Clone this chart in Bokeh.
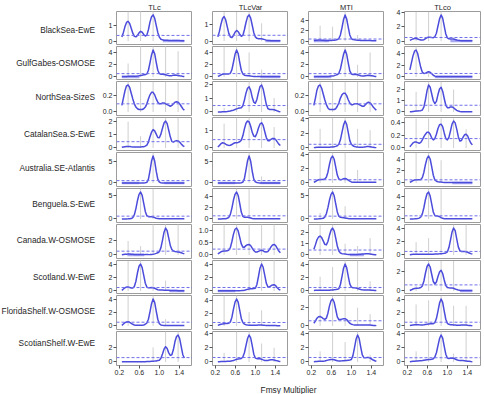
from bokeh.plotting import figure
from bokeh.layouts import column, row
from bokeh.models import Range1d, FixedTicker, Span, CustomJSTickFormatter
from bokeh.core.properties import value
from bokeh.embed import file_html
from bokeh.resources import INLINE

# ---------------- data ----------------
ECOSYSTEMS = ["BlackSea-EwE", "GulfGabes-OSMOSE", "NorthSea-SizeS", "CatalanSea.S-EwE",
              "Australia.SE-Atlantis", "Benguela.S-EwE", "Canada.W-OSMOSE", "Scotland.W-EwE",
              "FloridaShelf.W-OSMOSE", "ScotianShelf.W-EwE"]
INDICATORS = ["TLc", "TLcVar", "MTI", "TLco"]
X_TICKS = [0.2, 0.6, 1.0, 1.4]
X_TICK_LABELS = ["0.2", "0.6", "1.0", "1.4"]
X_TITLE = "Fmsy Multiplier"

FMSY = [0.25, 0.28125, 0.3125, 0.34375, 0.375, 0.40625, 0.4375, 0.46875,
        0.5, 0.53125, 0.5625, 0.59375, 0.625, 0.65625, 0.6875, 0.71875,
        0.75, 0.78125, 0.8125, 0.84375, 0.875, 0.90625, 0.9375, 0.96875,
        1.0, 1.03125, 1.0625, 1.09375, 1.125, 1.15625, 1.1875, 1.21875,
        1.25, 1.28125, 1.3125, 1.34375, 1.375, 1.40625, 1.4375, 1.46875, 1.5]
NEEDLE_X = [0.375, 0.625, 0.875, 1.125, 1.375]

TLC_DENSITY = [
    [0.26, 0.55, 0.92, 1.18, 1.25, 1.12, 0.82, 0.50,
     0.30, 0.27, 0.36, 0.52, 0.62, 0.56, 0.42, 0.32,
     0.38, 0.72, 1.20, 1.55, 1.66, 1.45, 1.00, 0.55,
     0.25, 0.12, 0.08, 0.06, 0.05, 0.05, 0.04, 0.04,
     0.03, 0.03, 0.03, 0.03, 0.03, 0.03, 0.02, 0.02, 0.02],
    [0.10, 0.10, 0.10, 0.10, 0.12, 0.12, 0.12, 0.12,
     0.12, 0.14, 0.16, 0.20, 0.25, 0.30, 0.35, 0.38,
     0.50, 1.10, 2.30, 3.60, 4.40, 3.80, 2.40, 1.10,
     0.55, 0.45, 0.45, 0.42, 0.35, 0.28, 0.22, 0.20,
     0.22, 0.28, 0.32, 0.30, 0.26, 0.20, 0.15, 0.10, 0.08],
    [0.08, 0.17, 0.26, 0.32, 0.33, 0.30, 0.23, 0.16,
     0.10, 0.06, 0.04, 0.03, 0.03, 0.03, 0.04, 0.06,
     0.10, 0.16, 0.21, 0.24, 0.24, 0.21, 0.16, 0.12,
     0.10, 0.10, 0.11, 0.11, 0.10, 0.09, 0.08, 0.07,
     0.08, 0.10, 0.12, 0.125, 0.12, 0.10, 0.07, 0.04, 0.02],
    [0.05, 0.08, 0.10, 0.12, 0.12, 0.11, 0.09, 0.08,
     0.07, 0.07, 0.07, 0.07, 0.08, 0.09, 0.10, 0.14,
     0.22, 0.45, 0.85, 1.20, 1.40, 1.30, 1.05, 0.80,
     0.78, 1.05, 1.50, 1.90, 2.05, 1.85, 1.35, 0.85,
     0.50, 0.45, 0.52, 0.56, 0.54, 0.45, 0.30, 0.18, 0.10],
    [0.02, 0.02, 0.02, 0.02, 0.02, 0.02, 0.02, 0.02,
     0.02, 0.02, 0.02, 0.02, 0.02, 0.02, 0.02, 0.05,
     0.15, 0.90, 2.90, 5.20, 6.40, 5.20, 2.80, 0.90,
     0.20, 0.05, 0.02, 0.02, 0.02, 0.02, 0.02, 0.02,
     0.02, 0.02, 0.02, 0.02, 0.02, 0.02, 0.02, 0.02, 0.02],
    [0.01, 0.01, 0.01, 0.02, 0.03, 0.05, 0.10, 0.30,
     0.90, 2.20, 3.90, 5.20, 5.70, 5.00, 3.30, 1.60,
     0.70, 0.50, 0.50, 0.48, 0.40, 0.28, 0.15, 0.08,
     0.05, 0.03, 0.03, 0.03, 0.03, 0.03, 0.03, 0.03,
     0.03, 0.03, 0.03, 0.03, 0.03, 0.03, 0.03, 0.03, 0.03],
    [0.03, 0.06, 0.09, 0.11, 0.12, 0.12, 0.10, 0.09,
     0.08, 0.08, 0.08, 0.08, 0.08, 0.07, 0.06, 0.05,
     0.05, 0.05, 0.06, 0.08, 0.10, 0.15, 0.22, 0.30,
     0.45, 1.00, 2.00, 3.10, 3.67, 3.30, 2.30, 1.30,
     0.75, 0.55, 0.48, 0.45, 0.42, 0.37, 0.30, 0.22, 0.15],
    [0.10, 0.30, 0.50, 0.60, 0.60, 0.55, 0.45, 0.45,
     0.70, 1.50, 2.80, 3.80, 4.15, 3.60, 2.40, 1.20,
     0.60, 0.48, 0.50, 0.52, 0.50, 0.42, 0.30, 0.20,
     0.16, 0.15, 0.14, 0.13, 0.12, 0.11, 0.10, 0.09,
     0.08, 0.07, 0.06, 0.06, 0.05, 0.05, 0.05, 0.05, 0.05],
    [0.10, 0.30, 0.50, 0.60, 0.62, 0.55, 0.40, 0.25,
     0.15, 0.10, 0.10, 0.10, 0.10, 0.12, 0.15, 0.25,
     0.45, 1.00, 2.10, 3.30, 4.00, 3.50, 2.20, 1.00,
     0.35, 0.15, 0.10, 0.08, 0.07, 0.06, 0.06, 0.06,
     0.06, 0.06, 0.06, 0.06, 0.06, 0.06, 0.06, 0.06, 0.06],
    [0.05, 0.05, 0.05, 0.05, 0.05, 0.05, 0.05, 0.05,
     0.05, 0.05, 0.05, 0.05, 0.05, 0.05, 0.05, 0.05,
     0.06, 0.07, 0.08, 0.09, 0.10, 0.12, 0.15, 0.20,
     0.25, 0.50, 1.10, 1.75, 2.10, 1.85, 1.25, 0.90,
     1.00, 1.70, 2.80, 3.50, 3.70, 3.20, 2.10, 1.00, 0.55],
]

TLCVAR_DENSITY = [
    [0.26, 0.60, 1.05, 1.40, 1.52, 1.32, 0.90, 0.48,
     0.25, 0.22, 0.35, 0.55, 0.66, 0.58, 0.42, 0.30,
     0.35, 0.70, 1.15, 1.50, 1.62, 1.42, 0.98, 0.52,
     0.26, 0.17, 0.15, 0.15, 0.14, 0.12, 0.09, 0.06,
     0.04, 0.03, 0.02, 0.02, 0.02, 0.02, 0.02, 0.02, 0.02],
    [0.10, 0.20, 0.35, 0.45, 0.50, 0.50, 0.50, 0.50,
     0.60, 1.20, 2.40, 3.70, 4.40, 3.80, 2.40, 1.10,
     0.50, 0.30, 0.25, 0.20, 0.20, 0.15, 0.12, 0.10,
     0.08, 0.06, 0.06, 0.06, 0.06, 0.06, 0.06, 0.06,
     0.06, 0.06, 0.06, 0.06, 0.06, 0.06, 0.06, 0.06, 0.06],
    [0.00, 0.00, 0.00, 0.01, 0.02, 0.02, 0.03, 0.05,
     0.07, 0.10, 0.13, 0.18, 0.22, 0.26, 0.28, 0.30,
     0.45, 0.85, 1.35, 1.70, 1.80, 1.55, 1.05, 0.70,
     0.62, 0.90, 1.40, 1.82, 1.93, 1.65, 1.10, 0.55,
     0.25, 0.18, 0.17, 0.17, 0.16, 0.12, 0.08, 0.04, 0.02],
    [0.05, 0.15, 0.25, 0.30, 0.28, 0.22, 0.17, 0.15,
     0.16, 0.20, 0.26, 0.30, 0.30, 0.32, 0.36, 0.45,
     0.70, 1.10, 1.42, 1.55, 1.50, 1.25, 0.90, 0.68,
     0.65, 0.85, 1.15, 1.38, 1.45, 1.30, 0.95, 0.60,
     0.42, 0.42, 0.50, 0.55, 0.55, 0.48, 0.35, 0.22, 0.14],
    [0.02, 0.02, 0.02, 0.02, 0.02, 0.02, 0.02, 0.02,
     0.02, 0.02, 0.02, 0.02, 0.02, 0.02, 0.02, 0.05,
     0.20, 1.00, 3.00, 5.10, 6.20, 5.00, 2.70, 0.90,
     0.25, 0.10, 0.05, 0.02, 0.02, 0.02, 0.02, 0.02,
     0.02, 0.02, 0.02, 0.02, 0.02, 0.02, 0.02, 0.02, 0.02],
    [0.01, 0.01, 0.02, 0.03, 0.04, 0.06, 0.12, 0.30,
     0.80, 1.90, 3.30, 4.30, 4.70, 4.10, 2.70, 1.20,
     0.45, 0.30, 0.32, 0.30, 0.25, 0.18, 0.10, 0.06,
     0.03, 0.03, 0.03, 0.03, 0.03, 0.03, 0.03, 0.03,
     0.03, 0.03, 0.03, 0.03, 0.03, 0.03, 0.03, 0.03, 0.03],
    [0.05, 0.09, 0.13, 0.15, 0.16, 0.16, 0.17, 0.20,
     0.30, 0.55, 0.85, 1.05, 1.10, 0.98, 0.72, 0.45,
     0.32, 0.32, 0.38, 0.42, 0.43, 0.38, 0.28, 0.18,
     0.12, 0.12, 0.15, 0.18, 0.19, 0.17, 0.13, 0.12,
     0.14, 0.22, 0.33, 0.41, 0.43, 0.38, 0.27, 0.16, 0.09],
    [0.03, 0.03, 0.03, 0.03, 0.03, 0.03, 0.03, 0.03,
     0.03, 0.03, 0.03, 0.03, 0.03, 0.04, 0.05, 0.06,
     0.08, 0.12, 0.18, 0.25, 0.30, 0.33, 0.35, 0.38,
     0.42, 1.00, 2.20, 3.50, 4.10, 3.60, 2.40, 1.20,
     0.65, 0.62, 0.80, 0.92, 0.95, 0.80, 0.50, 0.25, 0.12],
    [0.10, 0.20, 0.28, 0.32, 0.35, 0.38, 0.40, 0.45,
     0.65, 1.40, 2.70, 3.80, 4.30, 3.80, 2.50, 1.20,
     0.55, 0.30, 0.20, 0.15, 0.12, 0.10, 0.10, 0.10,
     0.10, 0.12, 0.14, 0.15, 0.15, 0.13, 0.10, 0.08,
     0.08, 0.08, 0.08, 0.08, 0.07, 0.06, 0.05, 0.04, 0.03],
    [0.03, 0.05, 0.07, 0.08, 0.08, 0.08, 0.09, 0.10,
     0.12, 0.16, 0.22, 0.30, 0.38, 0.42, 0.45, 0.50,
     0.70, 1.30, 2.30, 3.30, 3.80, 3.40, 2.30, 1.10,
     0.55, 0.47, 0.46, 0.45, 0.40, 0.30, 0.22, 0.20,
     0.22, 0.27, 0.30, 0.30, 0.27, 0.22, 0.16, 0.11, 0.08],
]

MTI_DENSITY = [
    [0.10, 0.15, 0.18, 0.20, 0.20, 0.18, 0.15, 0.12,
     0.10, 0.10, 0.10, 0.12, 0.15, 0.18, 0.22, 0.30,
     0.50, 1.20, 2.60, 4.20, 5.10, 4.30, 2.70, 1.20,
     0.50, 0.30, 0.25, 0.20, 0.18, 0.15, 0.12, 0.10,
     0.10, 0.10, 0.10, 0.10, 0.10, 0.08, 0.06, 0.05, 0.05],
    [0.08, 0.08, 0.08, 0.08, 0.08, 0.08, 0.08, 0.08,
     0.08, 0.10, 0.12, 0.15, 0.18, 0.22, 0.30, 0.40,
     0.60, 1.30, 2.50, 3.70, 4.40, 3.70, 2.30, 1.00,
     0.50, 0.42, 0.42, 0.40, 0.35, 0.28, 0.20, 0.15,
     0.15, 0.20, 0.25, 0.28, 0.25, 0.20, 0.15, 0.10, 0.08],
    [0.08, 0.17, 0.27, 0.32, 0.33, 0.29, 0.22, 0.15,
     0.09, 0.05, 0.03, 0.03, 0.03, 0.03, 0.04, 0.07,
     0.11, 0.17, 0.21, 0.23, 0.23, 0.20, 0.15, 0.11,
     0.09, 0.09, 0.10, 0.10, 0.10, 0.09, 0.08, 0.07,
     0.07, 0.09, 0.11, 0.12, 0.11, 0.09, 0.06, 0.04, 0.02],
    [0.05, 0.08, 0.10, 0.10, 0.10, 0.10, 0.10, 0.10,
     0.10, 0.10, 0.10, 0.12, 0.14, 0.18, 0.22, 0.30,
     0.50, 1.10, 2.10, 3.10, 3.65, 3.20, 2.10, 1.00,
     0.50, 0.30, 0.20, 0.15, 0.12, 0.10, 0.10, 0.10,
     0.12, 0.15, 0.20, 0.20, 0.18, 0.13, 0.10, 0.07, 0.05],
    [0.10, 0.20, 0.35, 0.45, 0.50, 0.50, 0.50, 0.55,
     0.80, 1.50, 2.60, 3.45, 3.75, 3.30, 2.20, 1.10,
     0.55, 0.45, 0.50, 0.60, 0.62, 0.55, 0.40, 0.25,
     0.15, 0.10, 0.10, 0.10, 0.10, 0.10, 0.10, 0.10,
     0.10, 0.10, 0.10, 0.10, 0.10, 0.10, 0.10, 0.10, 0.10],
    [0.01, 0.01, 0.02, 0.03, 0.05, 0.08, 0.15, 0.40,
     1.10, 2.40, 4.00, 5.20, 5.70, 4.90, 3.20, 1.50,
     0.60, 0.35, 0.30, 0.25, 0.20, 0.15, 0.10, 0.06,
     0.03, 0.03, 0.03, 0.03, 0.03, 0.03, 0.03, 0.03,
     0.03, 0.03, 0.03, 0.03, 0.03, 0.03, 0.03, 0.03, 0.03],
    [0.50, 0.90, 1.35, 1.60, 1.68, 1.55, 1.25, 0.95,
     0.90, 1.20, 1.75, 2.20, 2.40, 2.15, 1.50, 0.80,
     0.35, 0.18, 0.12, 0.10, 0.08, 0.06, 0.05, 0.05,
     0.05, 0.05, 0.05, 0.05, 0.05, 0.06, 0.07, 0.08,
     0.09, 0.10, 0.10, 0.10, 0.09, 0.07, 0.05, 0.03, 0.02],
    [0.08, 0.10, 0.12, 0.12, 0.12, 0.12, 0.12, 0.12,
     0.12, 0.12, 0.13, 0.15, 0.17, 0.20, 0.22, 0.25,
     0.35, 1.00, 2.20, 3.50, 4.15, 3.60, 2.30, 1.10,
     0.60, 0.50, 0.50, 0.45, 0.38, 0.30, 0.22, 0.18,
     0.16, 0.15, 0.15, 0.15, 0.14, 0.12, 0.10, 0.08, 0.07],
    [0.30, 0.55, 0.85, 1.02, 1.05, 0.95, 0.80, 0.72,
     0.85, 1.40, 2.20, 2.75, 2.95, 2.60, 1.80, 1.00,
     0.70, 0.70, 0.75, 0.80, 0.80, 0.70, 0.50, 0.30,
     0.20, 0.15, 0.12, 0.10, 0.10, 0.10, 0.10, 0.10,
     0.10, 0.10, 0.10, 0.10, 0.10, 0.08, 0.06, 0.05, 0.04],
    [0.05, 0.07, 0.08, 0.10, 0.10, 0.10, 0.12, 0.15,
     0.20, 0.26, 0.32, 0.35, 0.36, 0.32, 0.25, 0.18,
     0.15, 0.15, 0.16, 0.18, 0.20, 0.22, 0.25, 0.28,
     0.35, 0.90, 2.00, 3.20, 3.80, 3.30, 2.10, 1.00,
     0.60, 0.58, 0.62, 0.62, 0.55, 0.42, 0.28, 0.17, 0.10],
]

TLCO_DENSITY = [
    [0.10, 0.20, 0.30, 0.35, 0.35, 0.30, 0.22, 0.16,
     0.15, 0.20, 0.35, 0.50, 0.55, 0.55, 0.50, 0.48,
     0.60, 1.10, 2.10, 3.10, 3.65, 3.20, 2.10, 1.00,
     0.45, 0.32, 0.30, 0.30, 0.28, 0.22, 0.15, 0.10,
     0.07, 0.05, 0.05, 0.05, 0.05, 0.05, 0.05, 0.05, 0.05],
    [1.20, 2.40, 3.60, 4.40, 4.60, 4.00, 2.80, 1.60,
     0.80, 0.60, 0.65, 0.80, 0.88, 0.80, 0.55, 0.30,
     0.15, 0.10, 0.08, 0.08, 0.08, 0.08, 0.08, 0.08,
     0.08, 0.08, 0.08, 0.08, 0.08, 0.08, 0.08, 0.08,
     0.08, 0.08, 0.08, 0.08, 0.08, 0.08, 0.08, 0.08, 0.08],
    [0.02, 0.03, 0.05, 0.07, 0.08, 0.09, 0.10, 0.12,
     0.18, 0.45, 1.10, 1.90, 2.40, 2.20, 1.60, 1.00,
     0.75, 0.95, 1.55, 2.05, 2.20, 1.85, 1.20, 0.60,
     0.38, 0.38, 0.45, 0.45, 0.38, 0.25, 0.15, 0.08,
     0.05, 0.03, 0.02, 0.02, 0.02, 0.02, 0.02, 0.02, 0.02],
    [0.02, 0.05, 0.08, 0.095, 0.095, 0.085, 0.075, 0.09,
     0.13, 0.18, 0.22, 0.25, 0.25, 0.22, 0.16, 0.13,
     0.15, 0.22, 0.31, 0.37, 0.38, 0.34, 0.24, 0.15,
     0.13, 0.17, 0.27, 0.38, 0.43, 0.40, 0.30, 0.18,
     0.11, 0.12, 0.17, 0.21, 0.22, 0.19, 0.13, 0.08, 0.05],
    [0.10, 0.25, 0.40, 0.50, 0.55, 0.55, 0.55, 0.60,
     0.90, 1.80, 3.10, 4.10, 4.50, 4.00, 2.70, 1.30,
     0.50, 0.30, 0.22, 0.18, 0.15, 0.12, 0.10, 0.08,
     0.08, 0.08, 0.08, 0.08, 0.08, 0.08, 0.08, 0.08,
     0.08, 0.08, 0.08, 0.08, 0.08, 0.08, 0.08, 0.08, 0.08],
    [0.01, 0.01, 0.02, 0.03, 0.05, 0.08, 0.15, 0.35,
     0.90, 2.00, 3.40, 4.40, 4.70, 4.00, 2.60, 1.20,
     0.60, 0.52, 0.50, 0.40, 0.25, 0.12, 0.06, 0.03,
     0.03, 0.03, 0.03, 0.03, 0.03, 0.03, 0.03, 0.03,
     0.03, 0.03, 0.03, 0.03, 0.03, 0.03, 0.03, 0.03, 0.03],
    [0.05, 0.08, 0.10, 0.12, 0.12, 0.12, 0.12, 0.12,
     0.12, 0.12, 0.12, 0.12, 0.12, 0.12, 0.12, 0.12,
     0.13, 0.14, 0.15, 0.17, 0.20, 0.22, 0.25, 0.30,
     0.45, 1.10, 2.20, 3.40, 4.00, 3.60, 2.40, 1.20,
     0.65, 0.52, 0.50, 0.50, 0.48, 0.40, 0.30, 0.20, 0.14],
    [0.05, 0.12, 0.20, 0.25, 0.27, 0.28, 0.30, 0.35,
     0.50, 1.00, 1.80, 2.45, 2.70, 2.40, 1.65, 0.95,
     0.70, 0.90, 1.45, 1.90, 2.07, 1.75, 1.10, 0.55,
     0.35, 0.32, 0.30, 0.30, 0.27, 0.20, 0.14, 0.10,
     0.07, 0.05, 0.05, 0.05, 0.05, 0.05, 0.05, 0.05, 0.05],
    [0.08, 0.12, 0.16, 0.20, 0.22, 0.20, 0.17, 0.16,
     0.16, 0.18, 0.22, 0.26, 0.30, 0.32, 0.33, 0.35,
     0.50, 1.10, 2.20, 3.40, 4.00, 3.50, 2.20, 1.00,
     0.40, 0.25, 0.20, 0.18, 0.16, 0.13, 0.10, 0.10,
     0.11, 0.13, 0.15, 0.15, 0.13, 0.10, 0.08, 0.06, 0.05],
    [0.05, 0.08, 0.10, 0.12, 0.13, 0.14, 0.16, 0.18,
     0.20, 0.24, 0.28, 0.32, 0.35, 0.36, 0.38, 0.45,
     0.70, 1.30, 2.30, 3.30, 3.80, 3.35, 2.20, 1.10,
     0.55, 0.50, 0.52, 0.55, 0.52, 0.42, 0.32, 0.25,
     0.22, 0.20, 0.20, 0.18, 0.15, 0.12, 0.09, 0.06, 0.05],
]

# heights of the grey needles at NEEDLE_X
TLC_NEEDLES = [[1.9, 1.9, 1.9, 0.0, 0.0], [2.2, 5.3, 5.3, 5.3, 4.2], [0.37, 0.37, 0.37, 0.37, 0.37],
               [2.0, 0.9, 2.3, 2.3, 2.3], [0.0, 0.0, 7.2, 0.0, 0.0], [0.0, 6.4, 6.4, 0.0, 0.0],
               [1.9, 1.2, 4.2, 4.2, 4.2], [4.7, 4.7, 4.7, 1.6, 0.0], [4.5, 0.0, 4.5, 1.0, 0.0],
               [0.0, 0.0, 2.0, 4.2, 4.2]]
TLCVAR_NEEDLES = [[1.8, 1.8, 1.8, 1.1, 0.0], [5.0, 5.0, 4.0, 1.2, 0.0], [0.3, 2.2, 2.2, 2.2, 1.0],
                  [1.4, 1.75, 1.75, 1.75, 1.2], [0.0, 0.0, 7.0, 1.5, 0.0], [0.0, 5.3, 5.3, 0.0, 0.0],
                  [1.25, 1.25, 1.25, 1.25, 1.25], [0.0, 0.0, 4.7, 4.7, 4.7], [4.9, 4.9, 2.2, 2.5, 0.0],
                  [1.3, 4.3, 4.3, 2.6, 2.0]]
MTI_NEEDLES = [[3.0, 2.8, 5.8, 1.2, 0.0], [0.0, 0.0, 5.0, 2.0, 4.0], [0.37, 0.37, 0.37, 0.37, 0.37],
               [2.6, 4.1, 4.1, 2.6, 2.4], [4.2, 4.2, 4.2, 1.8, 0.0], [1.3, 6.4, 2.7, 0.0, 0.0],
               [2.7, 2.7, 1.0, 0.8, 1.5], [2.2, 3.7, 4.7, 4.7, 1.5], [3.3, 3.3, 3.3, 2.0, 1.3],
               [1.5, 4.3, 2.8, 4.3, 1.0]]
TLCO_NEEDLES = [[4.1, 4.1, 4.1, 0.5, 0.0], [5.2, 1.0, 0.0, 0.0, 0.0], [1.8, 2.7, 2.7, 2.0, 0.0],
                [0.47, 0.47, 0.47, 0.47, 0.3], [5.0, 5.0, 3.8, 0.0, 0.0], [0.0, 5.3, 5.3, 0.0, 0.0],
                [1.9, 2.5, 4.5, 4.5, 4.5], [0.5, 3.0, 3.0, 3.0, 0.0], [3.2, 3.8, 4.5, 3.0, 3.0],
                [1.5, 4.3, 4.3, 1.2, 4.3]]

# level of the dashed reference line
TLC_DASH = [0.36, 0.55, 0.10, 0.48, 0.56, 0.60, 0.52, 0.53, 0.56, 0.60]
TLCVAR_DASH = [0.36, 0.55, 0.46, 0.48, 0.56, 0.55, 0.24, 0.53, 0.56, 0.63]
MTI_DASH = [0.40, 0.55, 0.10, 0.50, 0.45, 0.60, 0.44, 0.53, 0.57, 0.63]
TLCO_DASH = [0.50, 0.60, 0.60, 0.15, 0.53, 0.55, 0.53, 0.61, 0.56, 0.60]

# rug stretches along zero
TLC_RUG = [[(1.07, 1.5)], [(0.25, 0.6)], [], [], [(0.25, 0.6), (1.1, 1.5)], [], [(0.36, 0.7)],
           [(1.2, 1.5)], [], []]
TLCVAR_RUG = [[(1.2, 1.5)], [(1.1, 1.5)], [], [], [(0.25, 0.6), (1.1, 1.5)], [], [],
              [(0.25, 0.6)], [], []]
MTI_RUG = [[(0.25, 0.55)], [(0.25, 0.6)], [], [], [], [], [(0.97, 1.25)], [], [], []]
TLCO_RUG = [[(1.06, 1.5)], [(0.75, 1.5)], [], [], [(1.1, 1.5)], [], [], [(1.25, 1.5)], [], []]

TLC_YTICKS = [[0, 1], [0, 2, 4], [0, 0.2], [0, 1, 2], [0, 5], [0, 5], [0, 2], [0, 2, 4], [0, 2, 4], [0, 2]]
TLC_YLABELS = [["0", "1"], ["0", "2", "4"], ["0.0", "0.2"], ["0", "1", "2"], ["0", "5"], ["0", "5"],
               ["0", "2"], ["0", "2", "4"], ["0", "2", "4"], ["0", "2"]]
TLCVAR_YTICKS = [[0, 1], [0, 2, 4], [0, 1, 2], [0, 1], [0, 5], [0, 2, 4], [0, 0.5, 1.0], [0, 2, 4],
                 [0, 2, 4], [0, 2, 4]]
TLCVAR_YLABELS = [["0", "1"], ["0", "2", "4"], ["0", "1", "2"], ["0", "1"], ["0", "5"], ["0", "2", "4"],
                  ["0.0", "0.5", "1.0"], ["0", "2", "4"], ["0", "2", "4"], ["0", "2", "4"]]
MTI_YTICKS = [[0, 2, 4], [0, 2, 4], [0, 0.2], [0, 2, 4], [0, 2, 4], [0, 5], [0, 1, 2], [0, 2, 4],
              [0, 2], [0, 2, 4]]
MTI_YLABELS = [["0", "2", "4"], ["0", "2", "4"], ["0.0", "0.2"], ["0", "2", "4"], ["0", "2", "4"],
               ["0", "5"], ["0", "1", "2"], ["0", "2", "4"], ["0", "2"], ["0", "2", "4"]]
TLCO_YTICKS = [[0, 2, 4], [0, 2, 4], [0, 1, 2], [0, 0.2, 0.4], [0, 2, 4], [0, 2, 4], [0, 2, 4],
               [0, 2], [0, 2, 4], [0, 2, 4]]
TLCO_YLABELS = [["0", "2", "4"], ["0", "2", "4"], ["0", "1", "2"], ["0.0", "0.2", "0.4"],
                ["0", "2", "4"], ["0", "2", "4"], ["0", "2", "4"], ["0", "2"], ["0", "2", "4"],
                ["0", "2", "4"]]

DENSITY = {"TLc": TLC_DENSITY, "TLcVar": TLCVAR_DENSITY, "MTI": MTI_DENSITY, "TLco": TLCO_DENSITY}
NEEDLES = {"TLc": TLC_NEEDLES, "TLcVar": TLCVAR_NEEDLES, "MTI": MTI_NEEDLES, "TLco": TLCO_NEEDLES}
DASH = {"TLc": TLC_DASH, "TLcVar": TLCVAR_DASH, "MTI": MTI_DASH, "TLco": TLCO_DASH}
RUG = {"TLc": TLC_RUG, "TLcVar": TLCVAR_RUG, "MTI": MTI_RUG, "TLco": TLCO_RUG}
YTICKS = {"TLc": TLC_YTICKS, "TLcVar": TLCVAR_YTICKS, "MTI": MTI_YTICKS, "TLco": TLCO_YTICKS}
YLABELS = {"TLc": TLC_YLABELS, "TLcVar": TLCVAR_YLABELS, "MTI": MTI_YLABELS, "TLco": TLCO_YLABELS}

for ind in INDICATORS:
    for k, d in enumerate(DENSITY[ind]):
        if len(d) != len(FMSY):
            raise ValueError(f"{ind} row {k}: {len(d)} values")

# ---------------- layout / style ----------------
FONT = "Liberation Sans"
TEXT = "#262626"
CURVE = "#4c4cdc"
DASHC = "#7070ea"
NEEDLEC = "#cfcfcf"
RUGC = "#a8a8f0"
FRAME_W, FRAME_H = 76, 34
LABEL_W = 96
COL_LEFT = [20, 20, 20, 20]
COL_RIGHT = [0, 0, 0, 4]
ROW_TOP = [10, 1, 1, 1, 1, 1, 1, 1, 1, 1]
ROW_BOTTOM = [1, 0, 1, 0, 1, 1, 1, 0, 1, 14]
TOTAL_W, TOTAL_H = 484, 394
X_START, X_END = 0.143, 1.663


def blank(width, height):
    # an axis-less canvas whose data units are pixels, used for the free texts
    f = figure(width=width, height=height, x_range=Range1d(0, width), y_range=Range1d(0, height),
               x_axis_location=None, y_axis_location=None, title=None,
               min_border_left=0, min_border_right=0, min_border_top=0, min_border_bottom=0,
               output_backend="svg", toolbar_location=None)
    f.outline_line_color = None
    for g in f.grid:
        g.visible = False
    return f


def put_text(f, text, x, y, size, align="center"):
    f.text(x=[x], y=[y], text=[text], text_align=align, text_baseline="middle",
           text_font=value(FONT), text_font_size=value(size), text_color=TEXT)


def style_axis(ax):
    ax.axis_line_color = None
    ax.major_tick_in = 0
    ax.major_tick_out = 3
    ax.major_tick_line_color = "#555555"
    ax.minor_tick_line_color = None
    ax.major_label_standoff = 1
    ax.major_label_text_font = FONT
    ax.major_label_text_font_size = "7px"
    ax.major_label_text_color = TEXT


rows = []
nrows = len(ECOSYSTEMS)
used_h = 0
for r in range(nrows):
    last = r == nrows - 1
    rh = ROW_TOP[r] + FRAME_H + ROW_BOTTOM[r]
    used_h += rh
    lab = blank(LABEL_W, rh)
    put_text(lab, ECOSYSTEMS[r], LABEL_W - 1.5, ROW_BOTTOM[r] + 18.5, "8.3px", "right")
    figs = [lab]
    for c, ind in enumerate(INDICATORS):
        dens = DENSITY[ind][r]
        top = max(dens)
        p = figure(width=COL_LEFT[c] + FRAME_W + COL_RIGHT[c], height=rh,
                   x_range=Range1d(X_START, X_END),
                   y_range=Range1d(-0.13 * top, 1.13 * top),
                   min_border_left=COL_LEFT[c], min_border_right=COL_RIGHT[c],
                   min_border_top=ROW_TOP[r], min_border_bottom=ROW_BOTTOM[r],
                   x_axis_location="below" if last else None,
                   y_axis_location="left", title=ind if r == 0 else None,
                   output_backend="svg", toolbar_location=None)
        if r == 0:
            p.title.align = "center"
            p.title.text_font = FONT
            p.title.text_font_size = "7.5px"
            p.title.text_font_style = "normal"
            p.title.text_color = TEXT
            p.title.standoff = 0
            p.title.offset = 0
        p.outline_line_color = "#9c9c9c"
        p.outline_line_width = 1
        for g in p.grid:
            g.visible = False

        p.segment(x0=NEEDLE_X, y0=[0] * len(NEEDLE_X), x1=NEEDLE_X, y1=NEEDLES[ind][r],
                  line_color=NEEDLEC, line_width=1)
        for lo, hi in RUG[ind][r]:
            p.segment(x0=[lo], y0=[0], x1=[hi], y1=[0], line_color=RUGC, line_width=2.5)
        p.add_layout(Span(location=DASH[ind][r], dimension="width", line_color=DASHC,
                          line_dash="3 2", line_width=1))
        p.line(FMSY, dens, line_color=CURVE, line_width=1.5, line_join="round")

        yax = p.yaxis[0]
        style_axis(yax)
        yax.ticker = FixedTicker(ticks=YTICKS[ind][r])
        yax.formatter = CustomJSTickFormatter(args=dict(labels=YLABELS[ind][r]),
                                              code="return labels[index];")
        if last:
            xax = p.xaxis[0]
            style_axis(xax)
            xax.ticker = FixedTicker(ticks=X_TICKS)
            xax.formatter = CustomJSTickFormatter(args=dict(labels=X_TICK_LABELS),
                                                  code="return labels[index];")
        figs.append(p)
    rows.append(row(*figs))

footer_h = TOTAL_H - used_h
footer = blank(TOTAL_W, footer_h)
put_text(footer, X_TITLE, 288, footer_h - 10, "8.3px")
rows.append(footer)

layout = column(*rows)
open("out.html", "w").write(file_html(layout, INLINE, "density panels"))
